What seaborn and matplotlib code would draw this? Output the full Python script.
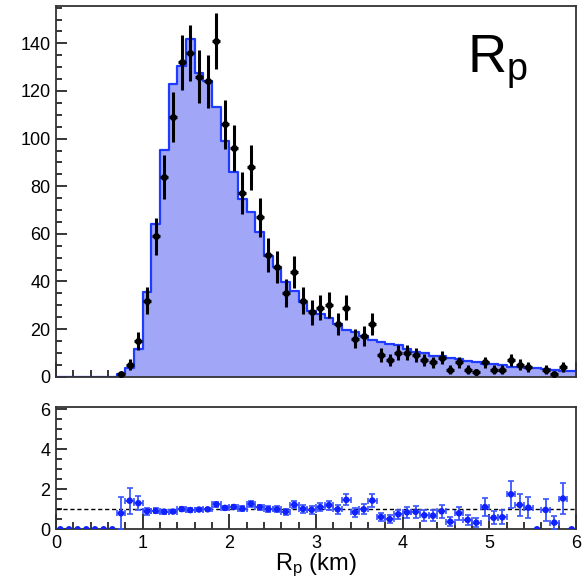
import numpy as np
import pandas as pd
import matplotlib
matplotlib.use("Agg")
import matplotlib.pyplot as plt
import seaborn as sns
from matplotlib.ticker import MultipleLocator

sns.set_theme(style="white")
plt.rcParams['font.family'] = ['Liberation Sans', 'DejaVu Sans']
plt.rcParams['mathtext.fontset'] = 'custom'
plt.rcParams['mathtext.rm'] = 'Liberation Sans'
plt.rcParams['mathtext.it'] = 'Liberation Sans'
plt.rcParams['text.color'] = 'black'
plt.rcParams['axes.labelcolor'] = 'black'

# ---- data (60 bins of 0.1 km from 0 to 6 km) ----
bin_lo, bin_hi, bin_w = 0.0, 6.0, 0.1

data_counts = [0, 0, 0, 0, 0, 0, 0,
               1, 5, 15, 32, 59, 84, 109, 132, 136, 126, 124, 141, 106,
               96, 77, 88, 67, 51, 46, 35, 44, 32, 27,
               29, 30, 22, 29, 16, 17, 22, 9, 7, 10,
               10, 9, 7, 6, 8, 3, 6, 3, 2, 6,
               3, 3, 7, 5, 4, 0, 3, 1, 4, 0]

mc_counts = [0, 0, 0, 0, 0, 0, 0,
             1.25, 3.5, 11.5, 35.6, 64.1, 95.4, 123.1, 130.7, 141.7, 127.5, 124.1, 113.3, 98.9,
             86.0, 74.5, 69.3, 60.8, 50.8, 46.0, 39.8, 35.8, 31.5, 27.8,
             26.2, 24.8, 22.0, 19.7, 18.8, 17.0, 15.3, 14.6, 13.8, 13.3,
             11.8, 10.3, 10.0, 8.8, 8.9, 7.9, 7.5, 6.4, 6.0, 5.4,
             5.2, 5.0, 4.0, 4.1, 3.7, 3.5, 3.1, 3.0, 2.6, 2.5]

top_yticks = [0, 20, 40, 60, 80, 100, 120, 140]
bot_yticks = [0, 2, 4, 6]
xticks = [0, 1, 2, 3, 4, 5, 6]

# ---- derived ----
n_bins = len(mc_counts)
centers = bin_lo + bin_w * (np.arange(n_bins) + 0.5)
data_arr = np.array(data_counts, float)
mc_arr = np.array(mc_counts, float)
df = pd.DataFrame({'x': centers, 'mc': mc_arr, 'data': data_arr})
safe_mc = np.where(mc_arr > 0, mc_arr, 1.0)
df['ratio'] = np.where(mc_arr > 0, data_arr / safe_mc, 0.0)
df['ratio_err'] = np.where(mc_arr > 0, np.sqrt(data_arr) / safe_mc, 0.0)

fill_c = '#a1a6f7'
line_c = '#1f3bff'
frame_c = '#333333'

fig = plt.figure(figsize=(5.87, 5.84), dpi=100)
ax1 = fig.add_axes([56 / 587, 1 - 376.7 / 584, 520 / 587, 370.7 / 584])
ax2 = fig.add_axes([56 / 587, 1 - 529.3 / 584, 520 / 587, 122 / 584])

# top panel histogram
sns.histplot(data=df, x='x', weights='mc', binwidth=bin_w, binrange=(bin_lo, bin_hi),
             element='step', fill=True, color=fill_c, alpha=1, linewidth=0, ax=ax1)
sns.histplot(data=df, x='x', weights='mc', binwidth=bin_w, binrange=(bin_lo, bin_hi),
             element='step', fill=False, color=line_c, linewidth=1.6, ax=ax1)

# data points
nz = df[df['data'] > 0]
ax1.errorbar(nz['x'], nz['data'], yerr=np.sqrt(nz['data']), xerr=0.045, fmt='o',
             color='black', ms=4, elinewidth=2.2, capsize=0, zorder=5)

ax1.set_xlim(bin_lo, bin_hi)
ax1.set_ylim(0, 155.7)
ax1.set_xlabel('')
ax1.set_ylabel('')
ax1.set_yticks(top_yticks)
ax1.yaxis.set_minor_locator(MultipleLocator(5))
ax1.set_xticks(xticks)
ax1.xaxis.set_minor_locator(MultipleLocator(0.2))
ax1.text(0.79, 0.82, 'R$_\\mathregular{p}$', transform=ax1.transAxes, fontsize=39,
         ha='left', va='baseline', color='black')

# bottom panel ratio
ax2.axhline(1, ls=(0, (3, 2)), color='black', lw=1, zorder=2)
rnz = df[df['ratio'] > 0]
ax2.errorbar(rnz['x'], rnz['ratio'], yerr=rnz['ratio_err'], xerr=0.05, fmt='none',
             ecolor='#3a55ff', elinewidth=1.3, capsize=2, capthick=1.2, zorder=3)
sns.scatterplot(data=df, x='x', y='ratio', color='#1020ff', s=22, edgecolor='none',
                ax=ax2, zorder=4)
ax2.set_xlim(bin_lo, bin_hi)
ax2.set_ylim(0, 6.1)
ax2.set_yticks(bot_yticks)
ax2.yaxis.set_minor_locator(MultipleLocator(0.5))
ax2.set_xticks(xticks)
ax2.xaxis.set_minor_locator(MultipleLocator(0.2))
ax2.set_ylabel('')
ax2.set_xlabel('R$_\\mathregular{p}$ (km)', fontsize=17, labelpad=0, color='black')

for ax in (ax1, ax2):
    ax.tick_params(which='both', direction='in', bottom=True, left=True, top=False,
                   right=False, color='black', width=1.1, labelsize=13, pad=4,
                   labelcolor='black')
    ax.tick_params(axis='x', which='major', length=10.8)
    ax.tick_params(axis='x', which='minor', length=5)
    ax.tick_params(axis='y', which='major', length=7.7)
    ax.tick_params(axis='y', which='minor', length=4.3)
    for s in ax.spines.values():
        s.set_color(frame_c)
        s.set_linewidth(1.3)
        s.set_visible(True)

ax1.tick_params(axis='x', which='both', labelbottom=False)

fig.savefig('out.png', dpi=100)
